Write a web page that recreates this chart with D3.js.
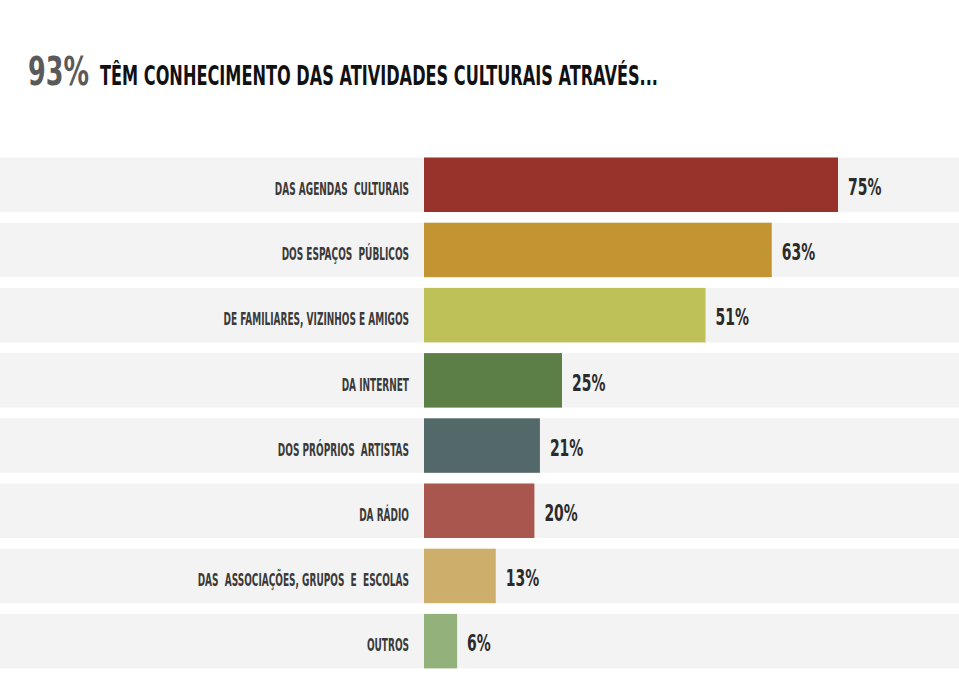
<!DOCTYPE html>
<html><head><meta charset="utf-8">
<script src="https://cdn.jsdelivr.net/npm/d3@7"></script>
<style>
html,body{margin:0;padding:0;background:#fff;}
svg{display:block;}
text{font-family:"Liberation Sans Narrow","DejaVu Sans Condensed","Arial Narrow",sans-serif;}
</style></head>
<body>
<script>
const categories = [
  "DAS AGENDAS  CULTURAIS",
  "DOS ESPAÇOS  PÚBLICOS",
  "DE FAMILIARES, VIZINHOS E AMIGOS",
  "DA INTERNET",
  "DOS PRÓPRIOS  ARTISTAS",
  "DA RÁDIO",
  "DAS  ASSOCIAÇÕES, GRUPOS  E  ESCOLAS",
  "OUTROS"
];
const values = [75, 63, 51, 25, 21, 20, 13, 6];
const colors = ["#97332b", "#c29532", "#bec157", "#5b7f46", "#536868", "#a9574e", "#ceae6b", "#93b27b"];
const titleHighlight = "93%";
const titleText = "TÊM CONHECIMENTO DAS ATIVIDADES CULTURAIS ATRAVÉS...";

const W = 959, H = 700;
const svg = d3.select("body").append("svg").attr("width", W).attr("height", H);

const x = d3.scaleLinear().domain([0, 100]).range([424, 424 + 552]);
const rowStep = 65.2, rowH = 54.5;
const y = d3.scaleOrdinal().domain(categories).range(categories.map((c, i) => 157.5 + i * rowStep));

// background bands
svg.append("g").selectAll("rect").data(categories).join("rect")
  .attr("x", 0).attr("width", W)
  .attr("y", d => y(d)).attr("height", rowH)
  .attr("fill", "#f3f3f3");

// bars
svg.append("g").selectAll("rect").data(values).join("rect")
  .attr("x", x(0))
  .attr("y", (d, i) => y(categories[i]))
  .attr("width", d => x(d) - x(0))
  .attr("height", rowH)
  .attr("fill", (d, i) => colors[i]);

// category labels (condensed)
const sxL = 0.54;
svg.append("g").selectAll("text").data(categories).join("text")
  .attr("transform", d => `translate(409,${y(d) + 37.5}) scale(${sxL},1)`)
  .attr("text-anchor", "end")
  .attr("font-size", 18.5)
  .attr("font-weight", "bold")
  .attr("fill", "#3a3a3a")
  .style("white-space", "pre")
  .text(d => d);

// value labels
const sxV = 0.66;
svg.append("g").selectAll("text").data(values).join("text")
  .attr("transform", (d, i) => `translate(${x(d) + 10},${y(categories[i]) + 37.5}) scale(${sxV},1)`)
  .attr("font-size", 23.5)
  .attr("font-weight", "bold")
  .attr("fill", "#2b2b2b")
  .text(d => d + "%");

// title
svg.append("text")
  .attr("x", 28).attr("y", 84.5)
  .attr("font-size", 38.5)
  .attr("font-weight", "bold")
  .attr("fill", "#5a5a5a")
  .attr("textLength", 61).attr("lengthAdjust", "spacingAndGlyphs")
  .text(titleHighlight);
svg.append("text")
  .attr("x", 100).attr("y", 84.5)
  .attr("font-size", 27)
  .attr("font-weight", "bold")
  .attr("fill", "#111")
  .attr("textLength", 558).attr("lengthAdjust", "spacingAndGlyphs")
  .text(titleText);
</script>
</body></html>
